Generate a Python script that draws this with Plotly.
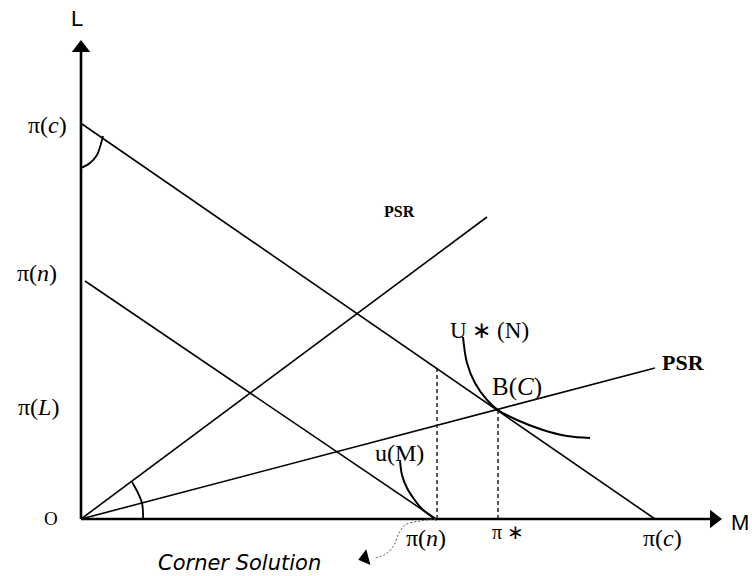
import plotly.graph_objects as go

# axis frame (origin at O), drawing units
axis_m_end = 641
axis_l_end = 480

# budget lines: (M intercept, L intercept)
budget_c = [[1, 574], [395, 0]]
budget_n = [[4, 355], [238, 0]]

# PSR rays from origin
psr_steep = [[0, 406], [0, 302]]
psr_flat = [[0, 574], [0, 151]]

# tangency / corner points
pi_n_m = 356
pi_n_top = 151
pi_star = 417
b_level = 109

# indifference curves
u_star_m = [382, 386, 394, 406, 417, 436, 462, 486, 509]
u_star_l = [182, 156, 136, 119, 109, 99, 89, 83, 81]
u_m_m = [319, 321, 326, 333, 341, 356]
u_m_l = [59, 44, 31, 20, 10, -1]

# angle marks
arc_o_m = [51, 57, 61, 62, 62]
arc_o_l = [37, 26, 16, 7, -1]
arc_c_m = [0, 9, 16, 19, 21, 22]
arc_c_l = [351, 356, 364, 372, 379, 383]

# corner solution pointer
corner_m = [355, 339, 324, 318, 313, 305, 294]
corner_l = [0, -2, -6, -14, -26, -35, -39]

SERIF = "Liberation Serif"
BLACK = "#000000"

fig = go.Figure()


def add_line(xs, ys, width=1.6, dash="solid", color=BLACK, shape="linear"):
    fig.add_trace(
        go.Scatter(
            x=xs,
            y=ys,
            mode="lines",
            line=dict(color=color, width=width, dash=dash, shape=shape),
            hoverinfo="skip",
            showlegend=False,
        )
    )


# axes
add_line([0, axis_m_end - 8], [0, 0], width=2.6)
add_line([0, 0], [0, axis_l_end - 8], width=2.6)
fig.add_trace(
    go.Scatter(
        x=[axis_m_end - 8, 0],
        y=[0, axis_l_end - 9],
        mode="markers",
        marker=dict(symbol=["triangle-right", "triangle-up"], size=16, color=BLACK),
        hoverinfo="skip",
        showlegend=False,
    )
)

add_line(*budget_c)
add_line(*budget_n)
add_line(*psr_steep)
add_line(*psr_flat)
add_line([pi_n_m, pi_n_m], [0, pi_n_top], width=1.3, dash="4px,3px")
add_line([pi_star, pi_star], [0, b_level], width=1.3, dash="4px,3px")
add_line(u_star_m, u_star_l, width=2, shape="spline")
add_line(u_m_m, u_m_l, width=2, shape="spline")
add_line(arc_o_m, arc_o_l, width=1.8, shape="spline")
add_line(arc_c_m, arc_c_l, width=1.8, shape="spline")
add_line(corner_m, corner_l, width=1, dash="2px,2px", color="#555555", shape="spline")
fig.add_trace(
    go.Scatter(
        x=[corner_m[-1] - 10],
        y=[corner_l[-1]],
        mode="markers",
        marker=dict(symbol="triangle-left", size=14, color=BLACK, angle=-15),
        hoverinfo="skip",
        showlegend=False,
    )
)

labels = [
    (-4, 501, "L", "Liberation Sans", 22),
    (659, -3, "M", "Liberation Sans", 22),
    (-30, 1, "O", SERIF, 19),
    (-34, 394, "π(<i>c</i>)", SERIF, 24),
    (-44, 246, "π(<i>n</i>)", SERIF, 24),
    (-43, 112, "π(<i>L</i>)", SERIF, 24),
    (345, -19, "π(<i>n</i>)", SERIF, 24),
    (427, -13, "π ∗", SERIF, 20),
    (581, -19, "π(<i>c</i>)", SERIF, 24),
    (318, 308, "<b>PSR</b>", SERIF, 16),
    (602, 157, "<b>PSR</b>", SERIF, 22),
    (408, 189, "U ∗ (N)", SERIF, 23),
    (436, 132, "B(<i>C</i>)", SERIF, 25),
    (318, 66, "u(M)", SERIF, 24),
    (158, -44, "<i>Corner Solution</i>", "DejaVu Sans", 21),
]
for x, y, text, family, size in labels:
    fig.add_annotation(
        x=x,
        y=y,
        text=text,
        showarrow=False,
        xanchor="center",
        yanchor="middle",
        font=dict(family=family, size=size, color=BLACK),
    )

fig.update_layout(
    width=752,
    height=576,
    margin=dict(l=0, r=0, t=0, b=0),
    plot_bgcolor="white",
    paper_bgcolor="white",
    xaxis=dict(range=[-81, 671], visible=False, fixedrange=True),
    yaxis=dict(range=[-57, 519], visible=False, fixedrange=True),
)

# drop the default 8px page margin so the figure fills the window
fig.write_html(
    "out.html",
    config={"displayModeBar": False},
    post_script="document.body.style.margin = '0';",
)
